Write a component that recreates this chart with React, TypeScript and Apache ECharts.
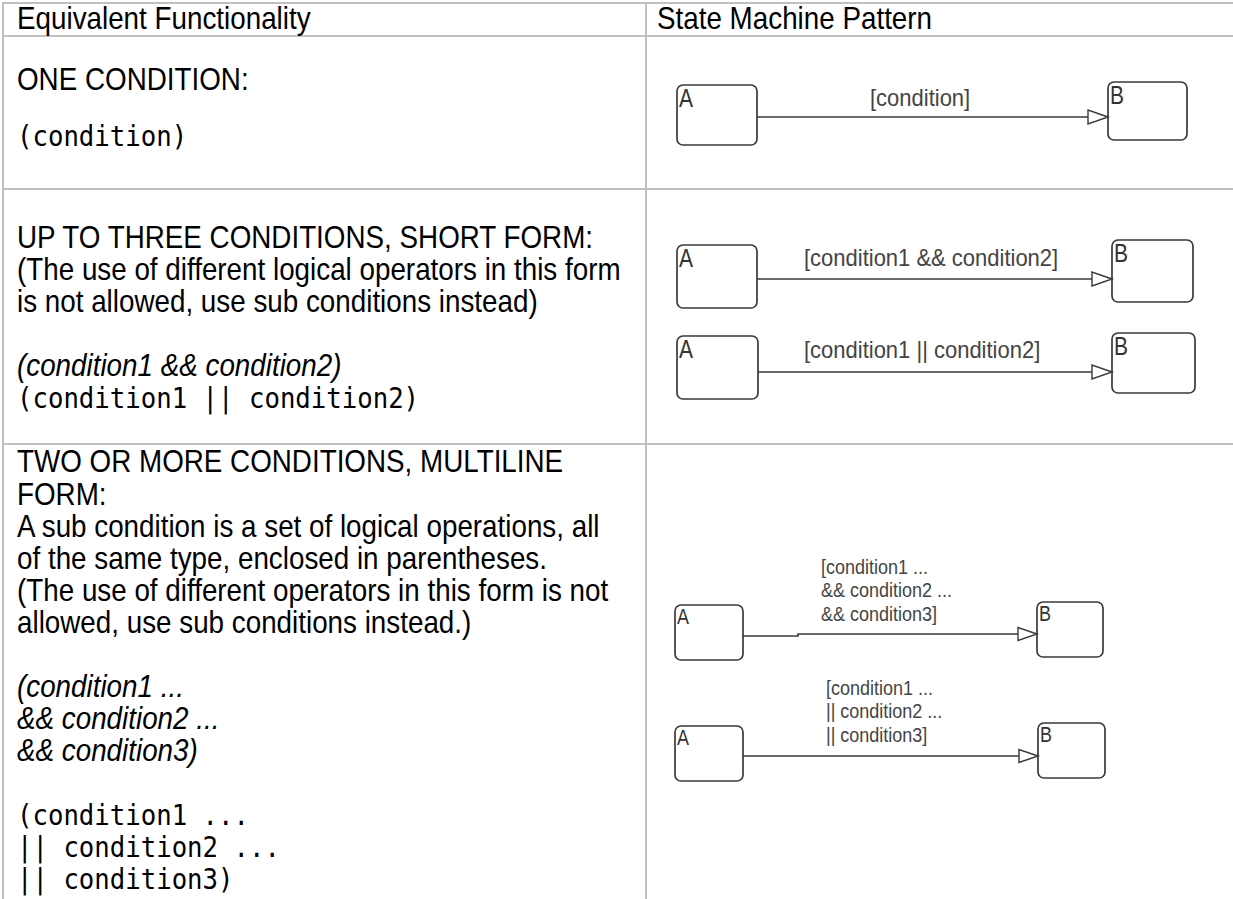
import React, { useEffect, useRef } from "react";
import * as echarts from "echarts";

// ---------- content ----------
const headerTexts = ["Equivalent Functionality", "State Machine Pattern"];

const row1Text = ["ONE CONDITION:", "(condition)"];
const row1Kind = ["sans", "mono"];

const row2Text = [
  "UP TO THREE CONDITIONS, SHORT FORM:",
  "(The use of different logical operators in this form",
  "is not allowed, use sub conditions instead)",
  "",
  "(condition1 && condition2)",
  "(condition1 || condition2)",
];
const row2Kind = ["sans", "sans", "sans", "", "italic", "mono"];

const row3Text = [
  "TWO OR MORE CONDITIONS, MULTILINE",
  "FORM:",
  "A sub condition is a set of logical operations, all",
  "of the same type, enclosed in parentheses.",
  "(The use of different operators in this form is not",
  "allowed, use sub conditions instead.)",
  "",
  "(condition1 ...",
  "&& condition2 ...",
  "&& condition3)",
  "",
  "(condition1 ...",
  "|| condition2 ...",
  "|| condition3)",
];
const row3Kind = ["sans", "sans", "sans", "sans", "sans", "sans", "", "italic", "italic", "italic", "", "mono", "mono", "mono"];

const stateNames = ["A", "B"];
const row1Labels = [["[condition]"]];
const row2Labels = [["[condition1 && condition2]"], ["[condition1 || condition2]"]];
const row3Labels = [
  ["[condition1 ...", "&& condition2 ...", "&& condition3]"],
  ["[condition1 ...", "|| condition2 ...", "|| condition3]"],
];

// ---------- layout ----------
const W = 1233;
const H = 899;
const GRID = "#c0c0c0";
const INK = "#000000";
const DIAG = "#3a3a3a";
const SANS = "'Liberation Sans', Arial, sans-serif";
const MONO = "'DejaVu Sans Mono', 'Liberation Mono', monospace";
const BODY_SIZE = 27.8;
const MONO_SIZE = 25.7;
const STRETCH = 1.1;
const TEXT_X = 17;
const DIVIDER_X = 646;

type Diag = {
  a: [number, number, number, number];
  b: [number, number, number, number];
  lineY: number;
  labelX: number;
  labelY: number;
  labels: string[];
  fontSize: number;
  gap: number;
  letter: number;
  step?: boolean;
};

const diagrams: Diag[] = [
  { a: [677, 85, 80, 60], b: [1108, 82, 79, 58], lineY: 117, labelX: 870, labelY: 98, labels: row1Labels[0], fontSize: 22, gap: 24, letter: 21 },
  { a: [677, 245, 80, 63], b: [1112, 240, 81, 62], lineY: 279, labelX: 804, labelY: 258, labels: row2Labels[0], fontSize: 22, gap: 24, letter: 21 },
  { a: [677, 336, 81, 63], b: [1112, 333, 83, 60], lineY: 372, labelX: 804, labelY: 350, labels: row2Labels[1], fontSize: 22, gap: 24, letter: 21 },
  { a: [675, 605, 68, 55], b: [1037, 602, 66, 55], lineY: 634, labelX: 821, labelY: 567, labels: row3Labels[0], fontSize: 18, gap: 23.5, letter: 18, step: true },
  { a: [675, 726, 68, 55], b: [1038, 723, 67, 55], lineY: 756, labelX: 826, labelY: 688, labels: row3Labels[1], fontSize: 18, gap: 23.5, letter: 18 },
];

function textEl(t: string, kind: string, x: number, y: number) {
  return {
    type: "text",
    x,
    y,
    scaleY: STRETCH,
    silent: true,
    style: {
      text: t,
      fill: INK,
      fontFamily: kind === "mono" ? MONO : SANS,
      fontSize: kind === "mono" ? MONO_SIZE : BODY_SIZE,
      fontStyle: kind === "italic" ? "italic" : "normal",
      verticalAlign: "middle",
      align: "left",
    },
  };
}

function textLines(lines: string[], kinds: string[], ys: number[]) {
  const out: any[] = [];
  lines.forEach((t, i) => {
    if (!t) return;
    out.push(textEl(t, kinds[i], TEXT_X, ys[i]));
  });
  return out;
}

function stateBox(r: [number, number, number, number], name: string, size: number) {
  return [
    {
      type: "rect",
      shape: { x: r[0], y: r[1], width: r[2], height: r[3], r: 6 },
      style: { fill: "#ffffff", stroke: DIAG, lineWidth: 1.7 },
      silent: true,
    },
    {
      type: "text",
      x: r[0] + 2,
      y: r[1] + 1,
      scaleY: 1.2,
      silent: true,
      style: { text: name, fill: "#333333", fontFamily: SANS, fontSize: size, verticalAlign: "top" },
    },
  ];
}

function diagram(d: Diag) {
  const out: any[] = [];
  out.push(...stateBox(d.a, stateNames[0], d.letter));
  out.push(...stateBox(d.b, stateNames[1], d.letter));
  const startX = d.a[0] + d.a[2];
  const tipX = d.b[0];
  const ah = d.fontSize > 19 ? 20 : 19;
  const hw = d.fontSize > 19 ? 7 : 6.5;
  const pts = d.step
    ? [[startX, d.lineY + 2], [startX + 55, d.lineY + 2], [startX + 55, d.lineY], [tipX - ah, d.lineY]]
    : [[startX, d.lineY], [tipX - ah, d.lineY]];
  out.push({ type: "polyline", shape: { points: pts }, style: { stroke: DIAG, lineWidth: 1.6, fill: "none" }, silent: true });
  out.push({
    type: "polygon",
    shape: { points: [[tipX, d.lineY], [tipX - ah, d.lineY - hw], [tipX - ah, d.lineY + hw]] },
    style: { fill: "#ffffff", stroke: DIAG, lineWidth: 1.4 },
    silent: true,
  });
  d.labels.forEach((t, i) => {
    out.push({
      type: "text",
      x: d.labelX,
      y: d.labelY + i * d.gap,
      scaleY: 1.08,
      silent: true,
      style: { text: t, fill: "#444444", fontFamily: SANS, fontSize: d.fontSize, verticalAlign: "middle" },
    });
  });
  return out;
}

function buildOption() {
  const g: any[] = [];
  const lineStyle = { stroke: GRID, lineWidth: 2 };
  const hLines = [3, 36, 189, 444];
  hLines.forEach((y) => g.push({ type: "line", shape: { x1: 2, y1: y, x2: W, y2: y }, style: lineStyle, silent: true }));
  g.push({ type: "line", shape: { x1: 3, y1: 2, x2: 3, y2: H }, style: lineStyle, silent: true });
  g.push({ type: "line", shape: { x1: DIVIDER_X, y1: 2, x2: DIVIDER_X, y2: H }, style: lineStyle, silent: true });

  g.push(textEl(headerTexts[0], "sans", TEXT_X, 19));
  g.push(textEl(headerTexts[1], "sans", DIVIDER_X + 11, 19));

  g.push(...textLines(row1Text, row1Kind, [80, 136]));
  const r2 = row2Text.map((_, i) => 238 + i * 32);
  g.push(...textLines(row2Text, row2Kind, r2));
  const r3 = row3Text.map((_, i) => 462 + i * 32.1);
  g.push(...textLines(row3Text, row3Kind, r3));

  diagrams.forEach((d) => g.push(...diagram(d)));

  return { animation: false, backgroundColor: "#ffffff", graphic: { elements: g } };
}

export default function App() {
  const ref = useRef<HTMLDivElement>(null);
  useEffect(() => {
    if (!ref.current) return;
    const chart = echarts.init(ref.current, undefined, { renderer: "svg" });
    chart.setOption(buildOption());
    return () => chart.dispose();
  }, []);
  return <div ref={ref} style={{ position: "absolute", left: 0, top: 0, width: W, height: H }} />;
}
